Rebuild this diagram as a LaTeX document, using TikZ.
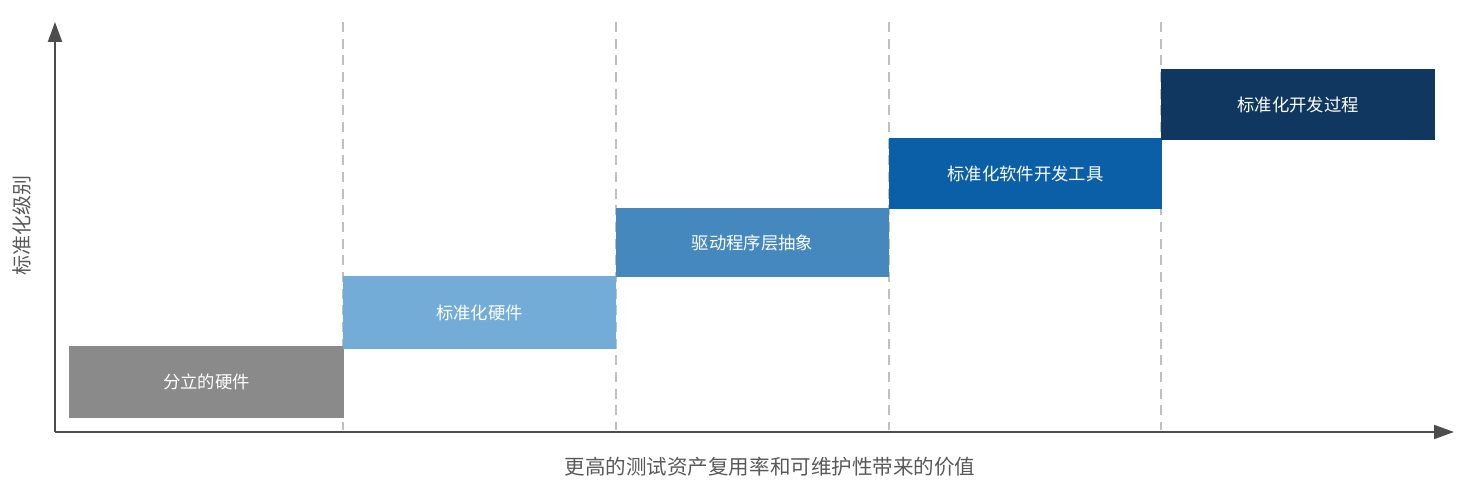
\documentclass[tikz,border=0pt]{standalone}
\usepackage{fontspec}
\setmainfont{Noto Sans CJK SC}
\usetikzlibrary{arrows.meta}
\definecolor{axiscol}{HTML}{4D4D4D}
\definecolor{dashcol}{HTML}{BFBFBF}
\definecolor{labelcol}{HTML}{595959}
\definecolor{cA}{HTML}{8A8A8A}
\definecolor{cB}{HTML}{72ACD7}
\definecolor{cC}{HTML}{4588BD}
\definecolor{cD}{HTML}{0A5FA6}
\definecolor{cE}{HTML}{10375F}
\tikzset{
  stepbox/.style={rectangle, inner sep=0pt, text=white, font=\fontsize{13}{15}\selectfont},
  axisline/.style={draw=axiscol, line width=1.5pt, -{Triangle[length=15pt, width=10.5pt]}},
  divider/.style={draw=dashcol, line width=1.5pt, dash pattern=on 7.5pt off 5pt},
  axislabel/.style={text=labelcol, inner sep=0pt}
}
\begin{document}
\begin{tikzpicture}[x=0.75pt, y=-0.75pt]
\useasboundingbox (0,0) rectangle (1468,491);
% dividers
\foreach \i/\x in {1/343, 2/616, 3/889, 4/1161} {
  \coordinate (dt\i) at (\x,22);
  \coordinate (db\i) at (\x,430);
  \draw[divider] (dt\i) -- (db\i);
}
% boxes
\node (b1) [stepbox, fill=cA, minimum width=206.25pt, minimum height=54pt] at (206.5,382) {分立的硬件};
\node (b2) [stepbox, fill=cB, minimum width=204.75pt, minimum height=54.75pt] at (479.5,312.5) {标准化硬件};
\node (b3) [stepbox, fill=cC, minimum width=204.75pt, minimum height=51.75pt] at (752.5,242.5) {驱动程序层抽象};
\node (b4) [stepbox, fill=cD, minimum width=204.75pt, minimum height=53.25pt] at (1025.5,173.5) {标准化软件开发工具};
\node (b5) [stepbox, fill=cE, minimum width=205.5pt, minimum height=53.25pt] at (1298,104.5) {标准化开发过程};
% axes
\coordinate (o) at (55,432);
\coordinate (ytip) at (55,22);
\coordinate (xtip) at (1454,432);
\draw[axisline] (o) -- (ytip);
\draw[axisline] (o) -- (xtip);
% axis labels
\node (ylab) [axislabel, rotate=90, font=\fontsize{15}{18}\selectfont] at (22,226) {标准化级别};
\node (xlab) [axislabel, font=\fontsize{15.4}{18}\selectfont] at (770,467) {更高的测试资产复用率和可维护性带来的价值};
\end{tikzpicture}
\end{document}
